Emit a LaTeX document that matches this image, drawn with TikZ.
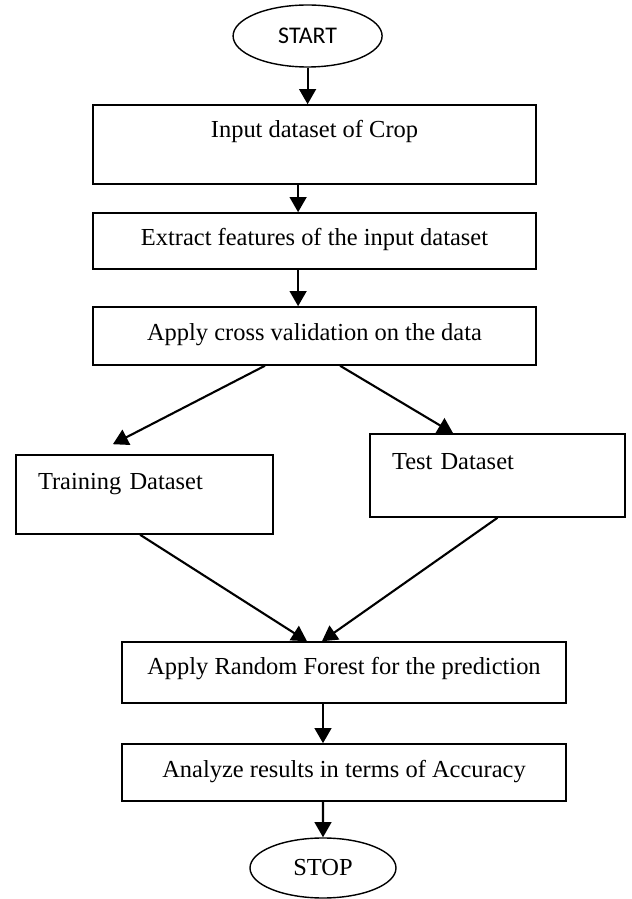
\documentclass[tikz,border=0pt]{standalone}
\usepackage{fontspec}
\setmainfont{Liberation Serif}
\newfontfamily\ovalfont{Carlito}
\usepackage{tikz}
\usetikzlibrary{arrows.meta, shapes.geometric}

\begin{document}
\begin{tikzpicture}[x=1cm, y=1cm,
  stepbox/.style={draw, line width=1.1pt, inner sep=0pt, align=center,
    minimum width=11.075cm, font=\fontsize{17.4}{21}\selectfont},
  sidebox/.style={stepbox, inner xsep=0.55cm, align=left},
  term/.style={draw, ellipse, line width=1pt, inner sep=0pt},
  flow/.style={-{Triangle[length=0.38cm, width=0.42cm]}, line width=1.5pt}]
\useasboundingbox[fill=white] (0,0) rectangle (15.8,22.475);
% terminals and process steps
\node[term, minimum width=3.725cm, minimum height=1.55cm,
  font=\ovalfont\fontsize{17}{20}\selectfont] (start) at (7.69,21.575) {START};
\node[stepbox, text height=0.825cm, text depth=1.15cm]
  (crop) at (7.8625,18.8625) {Input dataset of Crop};
\node[stepbox, text height=0.825cm, text depth=0.575cm]
  (feat) at (7.8625,16.45) {Extract features of the input dataset};
\node[stepbox, text height=0.85cm, text depth=0.6cm]
  (cross) at (7.8625,14.075) {Apply cross validation on the data};
\node[sidebox, minimum width=0pt, text width=5.325cm, text height=0.875cm, text depth=1.1cm]
  (train) at (3.6125,10.1125) {Training Dataset};
\node[sidebox, minimum width=0pt, text width=5.275cm, text height=0.9cm, text depth=1.175cm]
  (test) at (12.4375,10.5875) {Test Dataset};
\node[stepbox, minimum width=11.1cm, text height=0.825cm, text depth=0.7cm]
  (forest) at (8.6,5.6625) {Apply Random Forest for the prediction};
\node[stepbox, minimum width=11.1cm, text height=0.85cm, text depth=0.575cm]
  (acc) at (8.6,3.1625) {Analyze results in terms of Accuracy};
\node[term, minimum width=3.65cm, minimum height=1.5cm,
  font=\fontsize{17.4}{21}\selectfont] (stop) at (8.075,0.775) {STOP};
% connectors
\draw[flow] (start.south) -- (start.south |- crop.north);
\draw[flow] ([xshift=-0.41cm]crop.south) -- ([xshift=-0.41cm]feat.north);
\draw[flow] ([xshift=-0.41cm]feat.south) -- ([xshift=-0.41cm]cross.north);
\draw[flow] ([xshift=-1.24cm]cross.south) -- ([xshift=-0.79cm, yshift=0.25cm]train.north);
\draw[flow] ([xshift=0.64cm]cross.south) -- ([xshift=-1.11cm]test.north);
\draw[flow] ([xshift=-0.11cm]train.south) -- ([xshift=-0.925cm]forest.north);
\draw[flow] (test.south) -- ([xshift=-0.55cm]forest.north);
\draw[flow] ([xshift=-0.525cm]forest.south) -- ([xshift=-0.525cm]acc.north);
\draw[flow] ([xshift=-0.525cm]acc.south) -- (stop.north);
\end{tikzpicture}
\end{document}
